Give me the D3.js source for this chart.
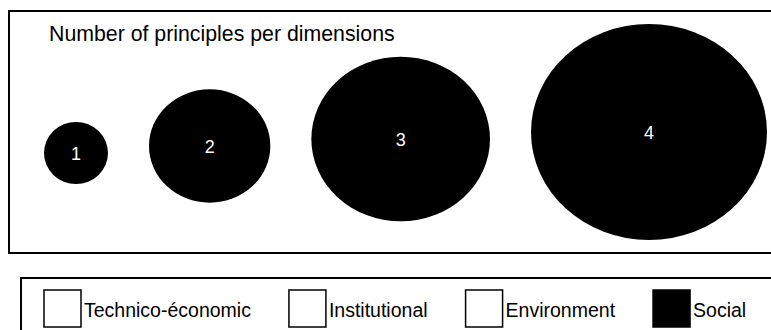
<!DOCTYPE html>
<html>
<head>
<meta charset="utf-8" />
<title>Principles per dimension</title>
<script src="https://d3js.org/d3.v7.min.js"></script>
<style>
  body { margin: 0; background: #fff; }
  svg { display: block; font-family: "Liberation Sans", Arial, sans-serif; }
</style>
</head>
<body>
<svg width="771" height="330"></svg>
<script>
    // data
    var title = "Number of principles per dimensions";
    var counts = [1, 2, 3, 4];
    var dimensions = ["Technico-économic", "Institutional", "Environment", "Social"];
    var dimensionFill = ["#fff", "#fff", "#fff", "#000"];

    var svg = d3.select("svg");

    // top frame (runs past the right edge like the original)
    svg.append("rect")
        .attr("x", 9).attr("y", 11)
        .attr("width", 800).attr("height", 242)
        .attr("fill", "none").attr("stroke", "#000").attr("stroke-width", 2);

    svg.append("text")
        .attr("x", 49).attr("y", 41)
        .style("font-size", "21.3px")
        .attr("fill", "#000")
        .text(title);

    // bubbles are drawn a bit wider than tall
    var rx = d3.scaleLinear().domain([1, 4]).range([32, 118]);
    var ry = d3.scaleLinear().domain([1, 4]).range([31, 108]);
    var cy = d3.scaleLinear().domain([1, 4]).range([153, 132]);

    var gap = 41, left = 44;
    var bubbles = counts.map(function (d) {
        var b = { v: d, cx: left + rx(d) };
        left = b.cx + rx(d) + gap;
        return b;
    });

    var g = svg.append("g");
    g.selectAll("ellipse")
        .data(bubbles)
        .enter().append("ellipse")
        .attr("cx", function (d) { return d.cx; })
        .attr("cy", function (d) { return cy(d.v); })
        .attr("rx", function (d) { return rx(d.v); })
        .attr("ry", function (d) { return ry(d.v); })
        .attr("fill", "#000");

    g.selectAll("text")
        .data(bubbles)
        .enter().append("text")
        .attr("x", function (d) { return d.cx; })
        .attr("y", function (d) { return cy(d.v); })
        .attr("dy", "0.4em")
        .attr("text-anchor", "middle")
        .attr("fill", "#fff")
        .style("font-size", "18px")
        .text(function (d) { return d.v; });

    // legend
    svg.append("rect")
        .attr("x", 21).attr("y", 278)
        .attr("width", 800).attr("height", 100)
        .attr("fill", "none").attr("stroke", "#000").attr("stroke-width", 2);

    var sq = 37, lx = 44;
    dimensions.forEach(function (name, i) {
        var item = svg.append("g").attr("transform", "translate(" + lx + ",290)");
        item.append("rect")
            .attr("width", sq).attr("height", sq)
            .attr("fill", dimensionFill[i])
            .attr("stroke", "#000").attr("stroke-width", 1.5);
        var t = item.append("text")
            .attr("x", sq + 3).attr("y", 27)
            .style("font-size", "19.5px")
            .attr("fill", "#000")
            .text(name);
        lx += sq + 3 + t.node().getComputedTextLength() + 38;
    });
</script>
</body>
</html>
